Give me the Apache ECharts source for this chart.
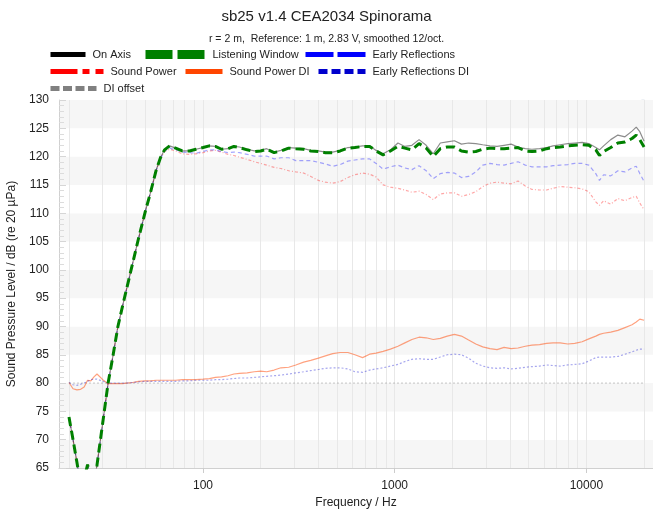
<!DOCTYPE html>
<html><head><meta charset="utf-8">
<script src="https://cdn.jsdelivr.net/npm/echarts@6/dist/echarts.min.js"></script>
<style>html,body{margin:0;padding:0;background:#fff}#c{width:653px;height:512px}</style>
</head><body><div id="c"></div>
<script>
// ---- data (frequency in Hz, levels in dB) ----
const freq = [20,21,22,23,24,25,26,27,28,30,32,34,36,38,40,43,46,50,53,57,60,63,67,72,78,85,92,100,108,116,125,135,145,155,170,185,200,215,235,255,280,305,335,365,400,435,475,520,570,620,680,740,800,870,950,1040,1130,1230,1340,1460,1590,1730,1880,2050,2230,2430,2650,2880,3140,3420,3720,4050,4400,4800,5200,5700,6200,6700,7300,8000,8700,9500,10300,11200,11700,12300,13400,14600,15900,17300,18200,19000,20000];

const listeningWindow = [74.0,70.0,66.0,62.0,63.0,65.6,63.0,62.5,65.5,73.0,80.0,85.0,90.0,93.5,96.7,101.2,105.4,110.3,113.4,117.6,119.8,121.2,121.9,121.5,121.0,121.0,121.3,121.6,121.9,121.8,121.3,121.4,121.8,121.6,121.2,120.9,121.0,121.3,120.7,121.0,121.5,121.4,121.3,121.0,120.9,120.7,120.7,121.0,121.5,121.6,121.8,121.8,121.0,120.3,121.0,121.8,121.5,121.2,122.3,121.5,120.0,121.4,121.7,121.7,121.0,120.8,120.9,121.3,121.5,121.4,121.4,121.5,121.6,121.0,120.9,121.0,121.4,121.6,121.7,121.9,122.0,122.1,122.0,121.2,120.2,120.9,121.6,122.4,122.6,123.2,123.8,123.0,121.7];

const onAxis = [74.0,70.0,66.0,62.0,63.0,65.6,63.0,62.5,65.5,73.0,80.0,85.0,90.0,93.5,96.7,101.2,105.4,110.3,113.4,117.6,119.8,121.2,121.9,121.5,121.0,121.0,121.3,121.6,121.9,121.8,121.3,121.4,121.8,121.7,121.3,121.0,121.1,121.4,120.8,121.1,121.6,121.5,121.4,121.1,121.0,120.8,120.8,121.1,121.6,121.7,121.9,121.9,121.1,120.5,121.2,122.4,121.8,122.0,123.0,122.0,120.5,122.4,122.6,122.8,122.2,122.4,122.3,122.1,121.9,121.8,122.0,122.2,121.7,121.4,121.3,121.4,121.6,121.9,122.1,122.3,122.4,122.5,122.3,121.6,121.2,121.9,123.0,123.8,123.5,124.5,125.2,124.4,122.7];

const earlyReflections = [74.0,70.0,66.0,62.0,63.0,65.6,63.0,62.5,65.5,73.0,80.0,85.0,90.0,93.5,96.7,101.2,105.4,110.3,113.4,117.6,119.6,121.0,121.5,121.2,120.8,120.7,120.6,120.9,121.2,121.2,120.9,120.7,120.8,120.7,120.4,120.1,120.1,120.1,119.6,119.8,119.8,119.3,119.3,119.3,119.0,118.7,118.3,118.6,119.2,119.4,119.6,119.6,118.8,117.8,118.2,118.5,118.0,117.7,118.4,117.5,116.1,117.0,117.2,117.1,116.3,116.5,117.3,118.5,118.8,118.6,118.5,118.8,119.1,118.5,118.2,118.2,118.2,118.4,118.5,118.6,118.8,118.8,118.5,117.0,115.8,116.8,116.6,117.5,117.3,118.0,118.3,117.0,115.6];

const soundPower = [74.0,70.0,66.0,62.0,63.0,65.6,63.0,62.5,65.5,73.0,80.0,85.0,90.0,93.5,96.7,101.2,105.4,110.3,113.4,117.6,119.6,120.9,121.3,121.0,120.5,120.4,120.5,120.7,121.0,121.1,120.8,120.4,120.2,119.9,119.5,119.1,118.8,118.5,118.1,117.9,117.5,117.3,117.1,116.5,115.8,115.5,115.3,115.6,116.3,116.8,117.1,116.9,116.4,115.0,114.6,114.4,114.1,113.7,113.9,113.3,112.4,113.4,113.6,113.6,113.0,113.3,113.8,114.7,115.3,115.5,115.3,115.2,115.7,114.8,114.2,114.1,114.1,114.4,114.7,114.6,114.5,114.3,113.8,112.0,111.4,112.2,111.6,112.6,112.2,112.8,113.0,111.8,110.6];

const soundPowerDI = [80.1,79.0,78.8,78.9,79.3,80.5,80.4,81.1,81.6,80.6,79.9,79.9,79.9,79.9,80.0,80.1,80.3,80.4,80.4,80.5,80.5,80.5,80.5,80.5,80.6,80.6,80.6,80.7,80.8,81.0,81.1,81.3,81.6,81.7,81.8,82.0,82.1,82.0,82.3,82.7,82.8,83.2,83.7,84.0,84.4,84.8,85.2,85.4,85.4,85.0,84.5,85.1,85.3,85.6,86.0,86.5,87.1,87.7,88.1,88.0,87.7,87.9,88.3,88.6,88.3,87.6,86.9,86.4,86.1,85.9,86.3,86.1,86.2,86.5,86.7,86.8,87.0,87.1,87.1,86.9,87.0,87.3,87.8,88.3,88.6,88.8,89.0,89.3,89.8,90.3,90.8,91.3,91.1];

const earlyReflectionsDI = [80.1,79.7,79.6,79.8,80.0,80.3,80.6,80.7,80.7,80.3,80.0,80.0,80.0,80.0,80.0,80.1,80.2,80.3,80.3,80.3,80.3,80.3,80.3,80.3,80.4,80.4,80.5,80.5,80.5,80.6,80.6,80.7,80.8,80.9,80.9,81.0,81.1,81.2,81.3,81.4,81.6,81.8,82.0,82.2,82.4,82.6,82.7,82.7,82.5,82.0,81.9,82.3,82.5,82.7,83.0,83.3,83.8,84.2,84.3,84.2,84.2,84.6,85.0,85.1,85.0,84.4,83.5,83.0,82.7,82.6,82.7,82.5,82.6,82.8,82.9,83.0,83.2,83.1,83.0,83.2,83.3,83.4,83.9,84.5,84.6,84.6,84.6,84.7,85.1,85.5,85.8,86.0,86.0];

const diOffsetFreq = [20, 20000];
const diOffset = [80, 80];

const xLabelFreqs = [100, 1000, 10000];
const xGridFreqs = [20,30,40,50,60,70,80,90,100,200,300,400,500,600,700,800,900,1000,2000,3000,4000,5000,6000,7000,8000,9000,10000,20000];
const yMin = 65, yMax = 130, yStep = 5;

// ---- chart ----
const FONT = '"Liberation Sans", Arial, sans-serif';
const XMIN = Math.log10(17.74), XMAX = XMIN + 594 / 191.7;
const pts = (fs, vs) => fs.map((f, i) => [Math.log10(f), vs[i]]);

function line(name, fs, vs, ls, z) {
  return { name, type: 'line', data: pts(fs, vs), symbol: 'none', showSymbol: false,
    silent: true, animation: false, clip: true, z: z, color: ls.color, lineStyle: ls };
}

const series = [
  line('DI offset', diOffsetFreq, diOffset, {color: '#808080', width: 1, type: [2, 2], opacity: 0.45}, 2),
  line('Sound Power DI', freq, soundPowerDI, {color: '#ff4500', width: 1.2, type: 'solid', opacity: 0.5}, 3),
  line('Early Reflections DI', freq, earlyReflectionsDI, {color: '#0000cd', width: 1.2, type: [2, 2], opacity: 0.35}, 3),
  line('Sound Power', freq, soundPower, {color: '#ff0000', width: 1.2, type: [3, 2, 1, 2], opacity: 0.35}, 3),
  line('Early Reflections', freq, earlyReflections, {color: '#0000ff', width: 1.2, type: [4, 3], opacity: 0.35}, 3),
  line('On Axis', freq, onAxis, {color: '#000000', width: 1.2, type: 'solid', opacity: 0.45}, 4),
  line('Listening Window', freq, listeningWindow, {color: '#008000', width: 3, type: [9, 5], opacity: 1}, 5)
];

function leg(name, left, top, w, ls) {
  return { data: [name], left: left, top: top, itemWidth: w, itemHeight: 10, padding: 0,
    selectedMode: false,
    itemStyle: { opacity: 0, color: 'rgba(0,0,0,0)', borderWidth: 0 },
    textStyle: { fontFamily: FONT, fontSize: 11, color: '#222', padding: [0, 0, 0, 2] },
    lineStyle: Object.assign({ opacity: 1, cap: 'butt' }, ls) };
}

const legends = [
  leg('On Axis', 48, 49, 35, {width: 5, type: 'solid', color: '#000'}),
  leg('Listening Window', 141, 49, 60, {width: 9, type: [27, 5], color: '#008000'}),
  leg('Early Reflections', 303, 49, 60, {width: 5, type: [28, 4], color: '#0000ff'}),
  leg('Sound Power', 48, 66, 53, {width: 5, type: [27, 5, 7, 6], color: '#ff0000'}),
  leg('Sound Power DI', 183, 66, 37, {width: 5, type: 'solid', color: '#ff4500'}),
  leg('Early Reflections DI', 316, 66, 47, {width: 5, type: [9, 4], color: '#0000cd'}),
  leg('DI offset', 48, 83, 46, {width: 5, type: [9, 3.5], color: '#808080'})
];

const option = {
  backgroundColor: '#fff',
  animation: false,
  title: [
    { text: 'sb25 v1.4 CEA2034 Spinorama', left: 'center', top: 4,
      textStyle: { fontFamily: FONT, fontSize: 15, fontWeight: 'normal', color: '#222' } },
    { text: 'r = 2 m,  Reference: 1 m, 2.83 V, smoothed 12/oct.', left: 'center', top: 29,
      textStyle: { fontFamily: FONT, fontSize: 10.5, fontWeight: 'normal', color: '#222' } }
  ],
  legend: legends,
  grid: { left: 59, right: 0, top: 100, bottom: 44, containLabel: false, outerBoundsMode: 'none' },
  xAxis: [
    { type: 'value', min: XMIN, max: XMAX, position: 'bottom',
      name: 'Frequency / Hz', nameLocation: 'middle', nameGap: 28,
      nameTextStyle: { fontFamily: FONT, fontSize: 12, color: '#222' },
      axisLine: { show: true, lineStyle: { color: '#d0d0d0' } },
      axisTick: { show: true, customValues: xLabelFreqs.map(Math.log10), length: 5, lineStyle: { color: '#cccccc' } },
      axisLabel: { customValues: xLabelFreqs.map(Math.log10), margin: 12,
        formatter: v => String(Math.round(Math.pow(10, v))),
        fontFamily: FONT, fontSize: 12, color: '#222' },
      splitLine: { show: false } },
    { type: 'value', min: XMIN, max: XMAX, position: 'top',
      axisLine: { show: false },
      axisTick: { show: false, customValues: xGridFreqs.map(Math.log10) },
      axisLabel: { show: false },
      splitLine: { show: true, lineStyle: { color: '#e8e8e8', width: 1 } } }
  ],
  yAxis: {
    type: 'value', min: yMin, max: yMax, interval: yStep,
    name: 'Sound Pressure Level / dB (re 20 µPa)', nameLocation: 'middle', nameGap: 35, nameRotate: 90,
    nameTextStyle: { fontFamily: FONT, fontSize: 12, color: '#222' },
    axisLine: { show: true, lineStyle: { color: '#d0d0d0' } },
    axisTick: { show: true, inside: true, length: 7, lineStyle: { color: '#d6d6d6' } },
    minorTick: { show: true, splitNumber: 5, length: 5, lineStyle: { color: '#dcdcdc' } },
    axisLabel: { margin: 10, fontFamily: FONT, fontSize: 12, color: '#222' },
    splitLine: { show: false },
    splitArea: { show: true, areaStyle: { color: ['#f6f6f6', '#ffffff'] } }
  },
  graphic: [
    { type: 'circle', shape: { cx: 643, cy: 106, r: 6 }, style: { fill: 'none', stroke: '#c9d3de', lineWidth: 0.8 }, silent: true },
    { type: 'text', left: 630, top: 103, style: { text: 'KLIPPEL', fontSize: 6, fontWeight: 'bold', fill: '#6f8fb0', fontFamily: FONT }, silent: true }
  ],
  series: series
};

const chart = echarts.init(document.getElementById('c'), null, { renderer: 'canvas' });
chart.setOption(option);
</script>
</body></html>
